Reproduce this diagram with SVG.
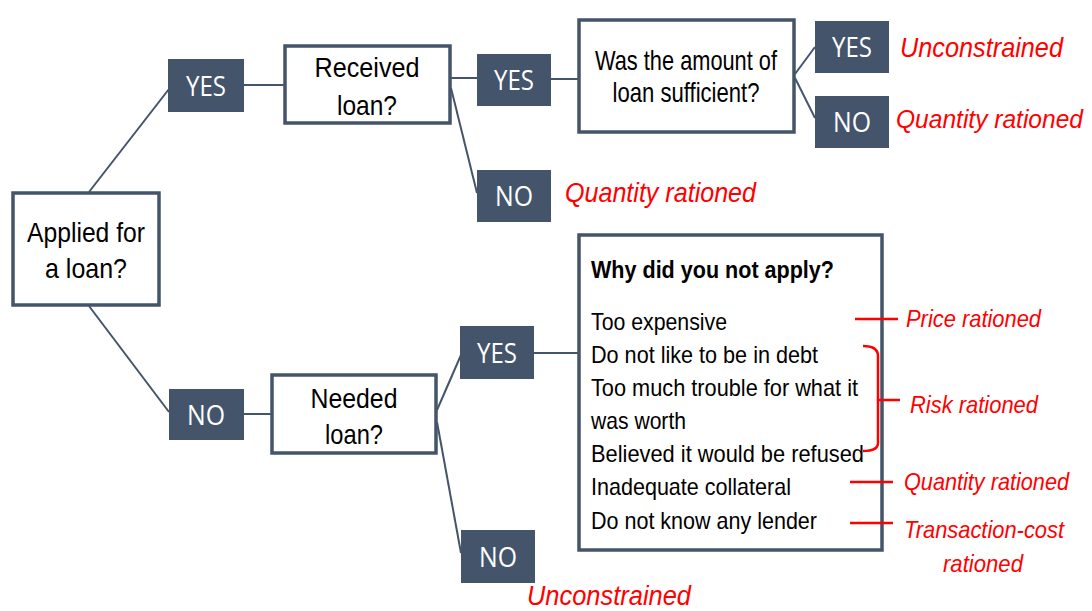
<svg xmlns="http://www.w3.org/2000/svg" width="1092" height="611" viewBox="0 0 1092 611">
<style>
.q{fill:#fff;stroke:#44546A;stroke-width:3.5}
.a{fill:#44546A}
.at{fill:#fff;font-family:"Open Sans","Liberation Sans",sans-serif;font-size:28px;text-anchor:middle}
.qt{fill:#000;font-family:"Liberation Sans",sans-serif;font-size:28px;text-anchor:middle}
.lt{fill:#000;font-family:"Liberation Sans",sans-serif;font-size:24px}
.r{fill:#FF0000;font-family:"Liberation Sans",sans-serif;font-style:italic}
.c{stroke:#44546A;stroke-width:2;fill:none}
.rl{stroke:#FF0000;stroke-width:2.5;fill:none}
</style>
<rect width="1092" height="611" fill="#fff"/>
<g id="connectors">
<line class="c" x1="89" y1="192" x2="169" y2="89"/>
<line class="c" x1="89" y1="306" x2="169" y2="412"/>
<line class="c" x1="244" y1="85" x2="284" y2="85"/>
<line class="c" x1="451" y1="78" x2="477" y2="78"/>
<line class="c" x1="451" y1="88" x2="477" y2="193"/>
<line class="c" x1="551" y1="79" x2="578" y2="79"/>
<line class="c" x1="795" y1="74" x2="815" y2="47"/>
<line class="c" x1="795" y1="78" x2="815" y2="118"/>
<line class="c" x1="244" y1="414" x2="271" y2="414"/>
<line class="c" x1="437" y1="410" x2="461" y2="355"/>
<line class="c" x1="437" y1="422" x2="461" y2="553"/>
<line class="c" x1="534" y1="353" x2="578" y2="353"/>
</g>
<g id="applied">
<rect class="q" x="13" y="193" width="146" height="112"/>
<text class="qt" x="86" y="242" textLength="118" lengthAdjust="spacingAndGlyphs">Applied for</text>
<text class="qt" x="86" y="278" textLength="82" lengthAdjust="spacingAndGlyphs">a loan?</text>
</g>
<g id="yes1">
<rect class="a" x="168" y="59" width="76" height="53"/>
<text class="at" x="206" y="96" textLength="40" lengthAdjust="spacingAndGlyphs">YES</text>
</g>
<g id="received">
<rect class="q" x="285" y="46" width="165" height="77"/>
<text class="qt" x="367" y="77" textLength="105" lengthAdjust="spacingAndGlyphs">Received</text>
<text class="qt" x="367" y="115" textLength="60" lengthAdjust="spacingAndGlyphs">loan?</text>
</g>
<g id="yes2">
<rect class="a" x="477" y="54" width="74" height="52"/>
<text class="at" x="514" y="90" textLength="40" lengthAdjust="spacingAndGlyphs">YES</text>
</g>
<g id="no2">
<rect class="a" x="477" y="170" width="74" height="52"/>
<text class="at" x="514" y="206" textLength="38" lengthAdjust="spacingAndGlyphs">NO</text>
<text class="r" x="565" y="202" font-size="28" textLength="191" lengthAdjust="spacingAndGlyphs">Quantity rationed</text>
</g>
<g id="sufficient">
<rect class="q" x="579" y="20" width="215" height="112"/>
<text class="qt" x="686" y="70" font-size="22" textLength="182" lengthAdjust="spacingAndGlyphs">Was the amount of</text>
<text class="qt" x="686" y="102" font-size="22" textLength="147" lengthAdjust="spacingAndGlyphs">loan sufficient?</text>
</g>
<g id="yes3">
<rect class="a" x="815" y="21" width="74" height="52"/>
<text class="at" x="852" y="57" textLength="40" lengthAdjust="spacingAndGlyphs">YES</text>
<text class="r" x="900" y="57" font-size="28" textLength="163" lengthAdjust="spacingAndGlyphs">Unconstrained</text>
</g>
<g id="no3">
<rect class="a" x="815" y="96" width="74" height="52"/>
<text class="at" x="852" y="132" textLength="38" lengthAdjust="spacingAndGlyphs">NO</text>
<text class="r" x="896" y="128" font-size="25" textLength="187" lengthAdjust="spacingAndGlyphs">Quantity rationed</text>
</g>
<g id="no1">
<rect class="a" x="169" y="389" width="75" height="51"/>
<text class="at" x="206" y="425" textLength="38" lengthAdjust="spacingAndGlyphs">NO</text>
</g>
<g id="needed">
<rect class="q" x="272" y="375" width="164" height="78"/>
<text class="qt" x="354" y="408" textLength="87" lengthAdjust="spacingAndGlyphs">Needed</text>
<text class="qt" x="354" y="444" textLength="58" lengthAdjust="spacingAndGlyphs">loan?</text>
</g>
<g id="yes4">
<rect class="a" x="460" y="326" width="74" height="53"/>
<text class="at" x="497" y="363" textLength="40" lengthAdjust="spacingAndGlyphs">YES</text>
</g>
<g id="no4">
<rect class="a" x="461" y="530" width="74" height="53"/>
<text class="at" x="498" y="567" textLength="38" lengthAdjust="spacingAndGlyphs">NO</text>
<text class="r" x="527" y="605" font-size="27" textLength="164" lengthAdjust="spacingAndGlyphs">Unconstrained</text>
</g>
<g id="why">
<rect class="q" x="579" y="235" width="303" height="315"/>
<text class="lt" x="591" y="278" font-weight="bold" font-size="22" textLength="243" lengthAdjust="spacingAndGlyphs">Why did you not apply?</text>
<text class="lt" x="591" y="330" textLength="136" lengthAdjust="spacingAndGlyphs">Too expensive</text>
<text class="lt" x="591" y="363" textLength="227" lengthAdjust="spacingAndGlyphs">Do not like to be in debt</text>
<text class="lt" x="591" y="396" textLength="267" lengthAdjust="spacingAndGlyphs">Too much trouble for what it</text>
<text class="lt" x="591" y="429" textLength="95" lengthAdjust="spacingAndGlyphs">was worth</text>
<text class="lt" x="591" y="462" textLength="273" lengthAdjust="spacingAndGlyphs">Believed it would be refused</text>
<text class="lt" x="591" y="495" textLength="200" lengthAdjust="spacingAndGlyphs">Inadequate collateral</text>
<text class="lt" x="591" y="529" textLength="226" lengthAdjust="spacingAndGlyphs">Do not know any lender</text>
</g>
<g id="reasons">
<line class="rl" x1="855" y1="319" x2="898" y2="319"/>
<text class="r" x="906" y="327" font-size="24" textLength="135" lengthAdjust="spacingAndGlyphs">Price rationed</text>
<path class="rl" d="M863,346 Q878,346 878,356 L878,400 L900,400 M878,400 L878,443 Q878,451 863,451"/>
<text class="r" x="910" y="413" font-size="24" textLength="128" lengthAdjust="spacingAndGlyphs">Risk rationed</text>
<line class="rl" x1="850" y1="482" x2="893" y2="482"/>
<text class="r" x="904" y="490" font-size="24" textLength="165" lengthAdjust="spacingAndGlyphs">Quantity rationed</text>
<line class="rl" x1="850" y1="523" x2="893" y2="523"/>
<text class="r" x="904" y="538" font-size="24" textLength="160" lengthAdjust="spacingAndGlyphs">Transaction-cost</text>
<text class="r" x="943" y="572" font-size="24" textLength="80" lengthAdjust="spacingAndGlyphs">rationed</text>
</g>
</svg>
